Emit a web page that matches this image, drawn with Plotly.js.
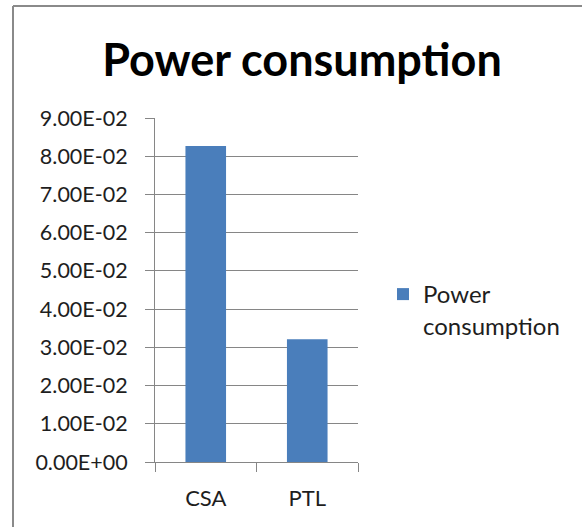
<!DOCTYPE html>
<html>
<head>
<meta charset="utf-8">
<script src="https://cdn.plot.ly/plotly-3.0.1.min.js"></script>
<style>html,body{margin:0;padding:0;background:#fff;}#chart{width:582px;height:527px;}</style>
</head>
<body>
<div id="chart"></div>
<script>
// ---- data ----
var categories = ['CSA', 'PTL'];
var powerValues = [0.0827, 0.0321];
var seriesName = 'Power<br>consumption';
var chartTitle = 'Power consumption';
var yTickValues = [0, 0.01, 0.02, 0.03, 0.04, 0.05, 0.06, 0.07, 0.08, 0.09];

function sciLabel(v) {
  return v.toExponential(2).toUpperCase().replace(/E([+-])(\d)$/, 'E$10$2');
}
var yTickText = yTickValues.map(sciLabel);

var W = 582, H = 527;
var mL = 155, mR = 224, mT = 118, mB = 65;
var pw = W - mL - mR, ph = H - mT - mB;
function px(x) { return (x - mL) / pw; }
function py(y) { return (H - mB - y) / ph; }

var fontFam = 'Lato, "Open Sans", sans-serif';
var gray = '#868686';

var trace = {
  type: 'bar',
  x: categories,
  y: powerValues,
  name: seriesName,
  marker: { color: '#4A7EBB' },
  showlegend: true,
  hoverinfo: 'x+y'
};

var layout = {
  width: W, height: H,
  margin: { l: mL, r: mR, t: mT, b: mB, pad: 0 },
  paper_bgcolor: '#ffffff',
  plot_bgcolor: '#ffffff',
  font: { family: fontFam, size: 21, color: '#1e1e1e' },
  title: {
    text: '<b>' + chartTitle + '</b>',
    font: { family: fontFam, size: 45, color: '#000000' },
    x: 302 / W, xanchor: 'center', xref: 'container',
    y: 1 - 60 / H, yanchor: 'middle', yref: 'container'
  },
  bargap: 0.6,
  xaxis: {
    type: 'category',
    showline: true, linecolor: gray, linewidth: 1,
    ticks: 'outside', ticklen: 9, tickcolor: gray, tickwidth: 1,
    tickson: 'boundaries',
    showgrid: false,
    tickfont: { family: fontFam, size: 22, color: '#1e1e1e' },
    ticklabelstandoff: 17
  },
  yaxis: {
    range: [0, 0.09],
    tickvals: yTickValues,
    ticktext: yTickText,
    showline: true, linecolor: gray, linewidth: 1,
    ticks: 'outside', ticklen: 9, tickcolor: gray, tickwidth: 1,
    showgrid: true, gridcolor: gray, gridwidth: 1,
    zeroline: false,
    tickfont: { family: fontFam, size: 21.5, color: '#1e1e1e' },
    ticklabelstandoff: 13
  },
  showlegend: true,
  legend: {
    x: px(383), xanchor: 'left',
    y: py(272), yanchor: 'top',
    valign: 'top',
    bgcolor: 'rgba(0,0,0,0)',
    borderwidth: 0,
    font: { family: fontFam, size: 24, color: '#1e1e1e' }
  },
  shapes: [
    { type: 'line', xref: 'paper', yref: 'paper', x0: px(13), x1: px(13), y0: py(6), y1: py(540),
      line: { color: '#8a8a8a', width: 2 }, layer: 'above' },
    { type: 'line', xref: 'paper', yref: 'paper', x0: px(13), x1: px(600), y0: py(6), y1: py(6),
      line: { color: '#8a8a8a', width: 2 }, layer: 'above' }
  ]
};

Plotly.newPlot('chart', [trace], layout, { displayModeBar: false, staticPlot: true });
</script>
</body>
</html>
